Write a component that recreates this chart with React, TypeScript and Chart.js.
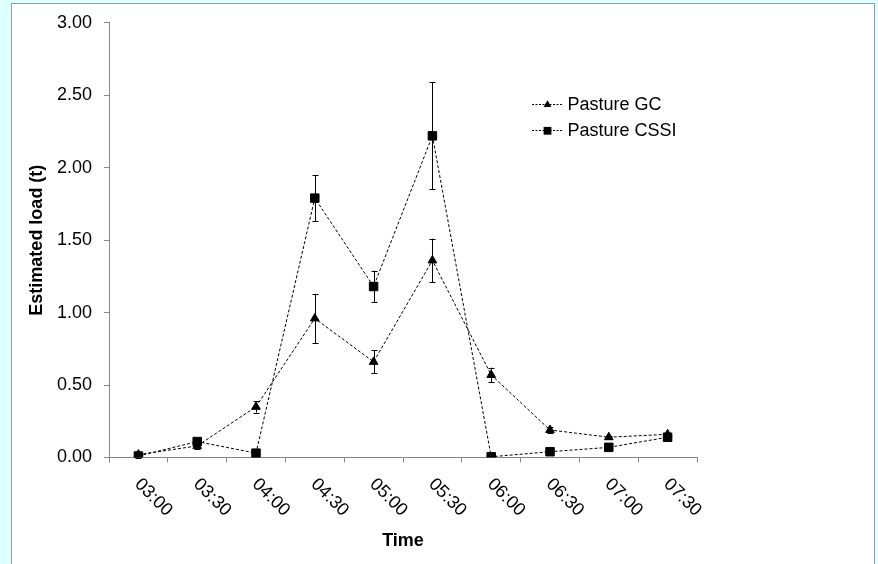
import React, { useEffect, useRef } from 'react';
import { Chart, registerables } from 'chart.js';

Chart.register(...registerables);

const categories = ['03:00', '03:30', '04:00', '04:30', '05:00', '05:30', '06:00', '06:30', '07:00', '07:30'];
const gcValues = [0.02, 0.08, 0.35, 0.96, 0.66, 1.36, 0.57, 0.19, 0.14, 0.16];
const gcErrors = [0.01, 0.02, 0.04, 0.17, 0.08, 0.15, 0.05, 0.02, 0.01, 0.01];
const cssiValues = [0.01, 0.11, 0.03, 1.79, 1.18, 2.22, 0.005, 0.04, 0.07, 0.14];
const cssiErrors = [0.01, 0.02, 0.01, 0.16, 0.11, 0.37, 0.0, 0.01, 0.01, 0.02];
const seriesLabels = ['Pasture GC', 'Pasture CSSI'];
const yTicksMin = 0;
const yTicksMax = 3;
const yTickStep = 0.5;
const xTitle = 'Time';
const yTitle = 'Estimated load (t)';

const FONT = '"Liberation Sans", Arial, Helvetica, sans-serif';
const AXIS_COLOR = '#868686';
const errorSets = [gcErrors, cssiErrors];

function drawMarker(ctx: CanvasRenderingContext2D, style: string, x: number, y: number, r: number) {
  ctx.beginPath();
  if (style === 'triangle') {
    const h = r * Math.sin((2 * Math.PI) / 3);
    ctx.moveTo(x, y - r);
    ctx.lineTo(x + h, y + r / 2);
    ctx.lineTo(x - h, y + r / 2);
    ctx.closePath();
  } else {
    const s = r * Math.SQRT1_2;
    ctx.rect(x - s, y - s, 2 * s, 2 * s);
  }
  ctx.fill();
}

const errorBarPlugin = {
  id: 'errorBars',
  afterDatasetsDraw(chart: any) {
    const { ctx } = chart;
    const ys = chart.scales.y;
    ctx.save();
    ctx.strokeStyle = '#000';
    ctx.lineWidth = 1;
    ctx.setLineDash([]);
    chart.data.datasets.forEach((ds: any, di: number) => {
      const meta = chart.getDatasetMeta(di);
      const errs = errorSets[di];
      meta.data.forEach((pt: any, i: number) => {
        const v = ds.data[i];
        const e = errs[i];
        if (!e) return;
        const x = Math.round(pt.x) + 0.5;
        const yTop = ys.getPixelForValue(v + e);
        const yBot = ys.getPixelForValue(Math.max(0, v - e));
        ctx.beginPath();
        ctx.moveTo(x, yTop);
        ctx.lineTo(x, yBot);
        ctx.moveTo(x - 3, Math.round(yTop) + 0.5);
        ctx.lineTo(x + 3, Math.round(yTop) + 0.5);
        ctx.moveTo(x - 3, Math.round(yBot) + 0.5);
        ctx.lineTo(x + 3, Math.round(yBot) + 0.5);
        ctx.stroke();
      });
    });
    ctx.restore();
  },
};

const xLabelPlugin = {
  id: 'xLabels',
  afterDraw(chart: any) {
    const { ctx } = chart;
    const xs = chart.scales.x;
    ctx.save();
    ctx.font = `18px ${FONT}`;
    ctx.fillStyle = '#000';
    ctx.textAlign = 'left';
    ctx.textBaseline = 'middle';
    categories.forEach((c, i) => {
      const x = xs.getPixelForValue(i);
      ctx.save();
      ctx.translate(x - 1, xs.top + 24);
      ctx.rotate(Math.PI / 4);
      ctx.fillText(c, 0, 0);
      ctx.restore();
    });
    ctx.restore();
  },
};

const legendPlugin = {
  id: 'customLegend',
  afterDraw(chart: any) {
    const { ctx, chartArea } = chart;
    ctx.save();
    ctx.font = `18px ${FONT}`;
    ctx.textAlign = 'left';
    ctx.textBaseline = 'middle';
    chart.data.datasets.forEach((ds: any, i: number) => {
      const y = chartArea.top + 81.5 + i * 26;
      const x0 = chartArea.left + 423;
      const x1 = chartArea.left + 454;
      ctx.strokeStyle = '#000';
      ctx.lineWidth = 1;
      ctx.setLineDash([2, 1.5]);
      ctx.beginPath();
      ctx.moveTo(x0, Math.round(y) + 0.5);
      ctx.lineTo(x1, Math.round(y) + 0.5);
      ctx.stroke();
      ctx.setLineDash([]);
      ctx.fillStyle = '#000';
      drawMarker(ctx, ds.pointStyle, (x0 + x1) / 2, y + 0.5, ds.pointStyle === 'triangle' ? 4.5 : 5.5);
      ctx.fillText(ds.label, x1 + 4.5, y + 1);
    });
    ctx.restore();
  },
};

export default function App() {
  const canvasRef = useRef<HTMLCanvasElement | null>(null);

  useEffect(() => {
    const canvas = canvasRef.current;
    if (!canvas) return;
    const chart = new Chart(canvas, {
      type: 'line',
      data: {
        labels: categories,
        datasets: [
          {
            label: seriesLabels[0],
            data: gcValues,
            borderColor: '#000',
            borderWidth: 1,
            borderDash: [3, 2],
            pointStyle: 'triangle',
            pointRadius: 5,
            pointBackgroundColor: '#000',
            pointBorderColor: '#000',
            pointBorderWidth: 1,
            tension: 0,
            fill: false,
          },
          {
            label: seriesLabels[1],
            data: cssiValues,
            borderColor: '#000',
            borderWidth: 1,
            borderDash: [3, 2],
            pointStyle: 'rect',
            pointRadius: 6,
            pointBackgroundColor: '#000',
            pointBorderColor: '#000',
            pointBorderWidth: 1,
            tension: 0,
            fill: false,
          },
        ],
      },
      options: {
        responsive: false,
        animation: false,
        events: [],
        layout: { padding: { left: 0, right: 181, top: 19.5, bottom: 0 } },
        plugins: {
          legend: { display: false },
          tooltip: { enabled: false },
          title: { display: false },
        },
        scales: {
          x: {
            type: 'category',
            offset: true,
            grid: {
              offset: true,
              drawOnChartArea: false,
              drawTicks: true,
              tickLength: 5,
              color: AXIS_COLOR,
            },
            border: { color: AXIS_COLOR, width: 1 },
            ticks: { display: false },
            title: {
              display: true,
              text: xTitle,
              color: '#000',
              font: { family: FONT, size: 18, weight: 'bold' },
              padding: { top: 0, bottom: 12 },
            },
            afterFit(scale: any) {
              scale.height = 106.5;
            },
          },
          y: {
            min: yTicksMin,
            max: yTicksMax,
            ticks: {
              stepSize: yTickStep,
              color: '#000',
              padding: 12,
              font: { family: FONT, size: 18 },
              callback: (v: any) => Number(v).toFixed(2),
            },
            grid: {
              drawOnChartArea: false,
              drawTicks: true,
              tickLength: 5,
              color: AXIS_COLOR,
            },
            border: { color: AXIS_COLOR, width: 1 },
            title: {
              display: true,
              text: yTitle,
              color: '#000',
              font: { family: FONT, size: 18, weight: 'bold' },
              padding: { top: 26, bottom: 0 },
            },
            afterFit(scale: any) {
              scale.width = 109;
            },
          },
        },
      },
      plugins: [errorBarPlugin, xLabelPlugin, legendPlugin],
    } as any);
    return () => chart.destroy();
  }, []);

  return (
    <div
      style={{
        position: 'fixed',
        left: 0,
        top: 0,
        width: 878,
        height: 564,
        overflow: 'hidden',
        background: '#dcffff',
      }}
    >
      <div
        style={{
          position: 'absolute',
          left: 11,
          top: 3,
          width: 862,
          height: 600,
          background: '#fff',
          border: '1px solid #9a9a9a',
        }}
      />
      <canvas
        ref={canvasRef}
        width={878}
        height={564}
        style={{ position: 'absolute', left: 0, top: 0, width: 878, height: 564 }}
      />
    </div>
  );
}
